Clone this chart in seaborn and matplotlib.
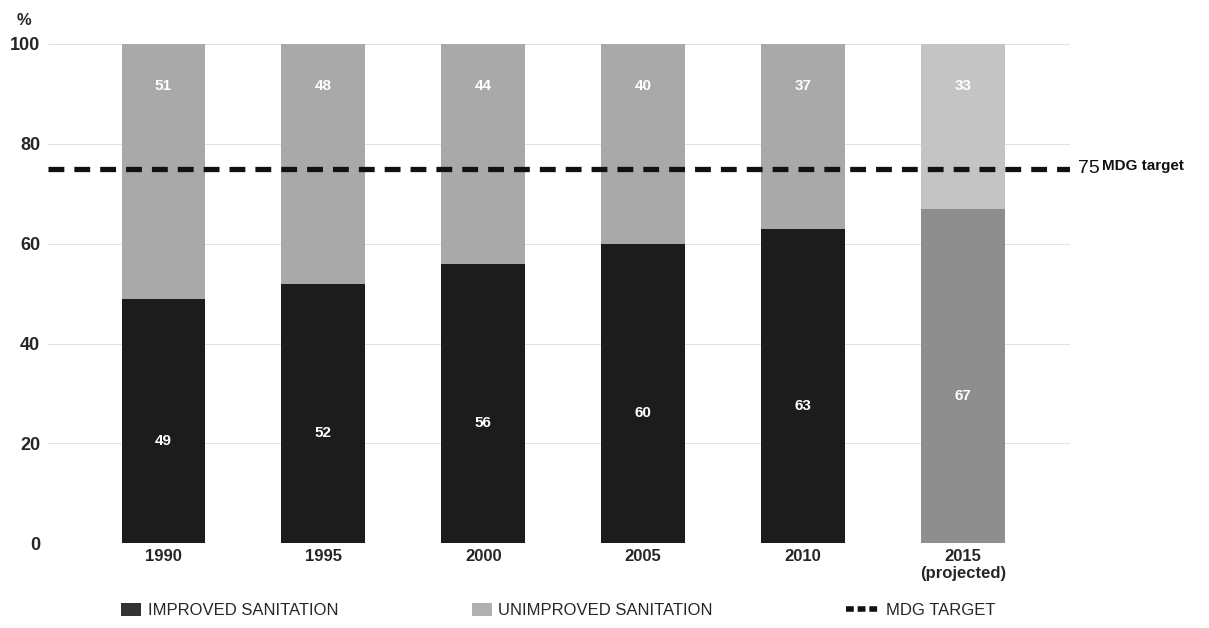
import matplotlib
matplotlib.use("Agg")
import matplotlib.pyplot as plt
from matplotlib.patches import Patch
from matplotlib.lines import Line2D
import seaborn as sns
import pandas as pd

years = ["1990", "1995", "2000", "2005", "2010", "2015\n(projected)"]
improved = [49, 52, 56, 60, 63, 67]
unimproved = [51, 48, 44, 40, 37, 33]
target = 75
yticks = [0, 20, 40, 60, 80, 100]

improved_colors = ["#1c1c1c"] * 5 + ["#8e8e8e"]
unimproved_colors = ["#a9a9a9"] * 5 + ["#c4c4c4"]

sns.set_theme(style="white")
plt.rcParams["font.family"] = ["Liberation Sans", "DejaVu Sans"]

df = pd.DataFrame({"year": years, "improved": improved, "unimproved": unimproved})
df["total"] = df["improved"] + df["unimproved"]

fig = plt.figure(figsize=(12.09, 6.28), dpi=100)
ax = fig.add_axes([0.040, 0.135, 0.845, 0.795])

for y in yticks[1:]:
    ax.axhline(y, color="#e2e2e2", lw=0.8, zorder=0)

sns.barplot(data=df, x="year", y="total", hue="year", palette=unimproved_colors,
            legend=False, width=0.525, ax=ax, zorder=2, saturation=1, linewidth=0)
sns.barplot(data=df, x="year", y="improved", hue="year", palette=improved_colors,
            legend=False, width=0.525, ax=ax, zorder=3, saturation=1, linewidth=0)

for i, (a, b) in enumerate(zip(improved, unimproved)):
    ax.text(i, a / 2 - 4, str(a), ha="center", va="center", color="white",
            fontsize=11, fontweight="bold", zorder=5)
    ax.text(i, 91.5, str(b), ha="center", va="center", color="white",
            fontsize=11, fontweight="bold", zorder=5)

ax.axhline(target, color="#111111", lw=3.8, dashes=(3.0, 1.9), zorder=4)
ax.text(1.008, target, "75", transform=ax.get_yaxis_transform(), ha="left",
        va="center", fontsize=14, color="#111111")
ax.text(1.031, target + 0.5, "MDG target", transform=ax.get_yaxis_transform(), ha="left",
        va="center", fontsize=11, fontweight="bold", color="#111111")

ax.set_xlim(-0.72, 5.67)
ax.set_ylim(0, 100)
ax.set_yticks(yticks)
ax.set_yticklabels([str(t) for t in yticks], fontsize=13, fontweight="bold")
for lbl in ax.get_xticklabels():
    lbl.set_fontweight("bold")
ax.tick_params(axis="x", labelsize=12, length=0, pad=4)
ax.tick_params(axis="y", length=0, pad=6)
ax.set_xlabel("")
ax.set_ylabel("")
for s in ax.spines.values():
    s.set_visible(False)
ax.axhline(0, color="#d8d8d8", lw=0.8, zorder=1)

fig.text(0.020, 0.967, "%", fontsize=12, fontweight="bold", ha="center", va="center")

leg_items = [
    (Patch(facecolor="#333333", edgecolor="none", label="IMPROVED SANITATION"), 0.100, 1.2),
    (Patch(facecolor="#b0b0b0", edgecolor="none", label="UNIMPROVED SANITATION"), 0.390, 1.2),
    (Line2D([0], [0], color="#111111", lw=4.0, dashes=(1.4, 0.7), label="MDG TARGET"), 0.700, 2.0),
]
for h, x, hl in leg_items:
    fig.legend(handles=[h], loc="center left", bbox_to_anchor=(x, 0.028),
               frameon=False, fontsize=12, handlelength=hl,
               handleheight=0.9, handletextpad=0.4, borderaxespad=0, borderpad=0)

fig.savefig("out.png", dpi=100)
